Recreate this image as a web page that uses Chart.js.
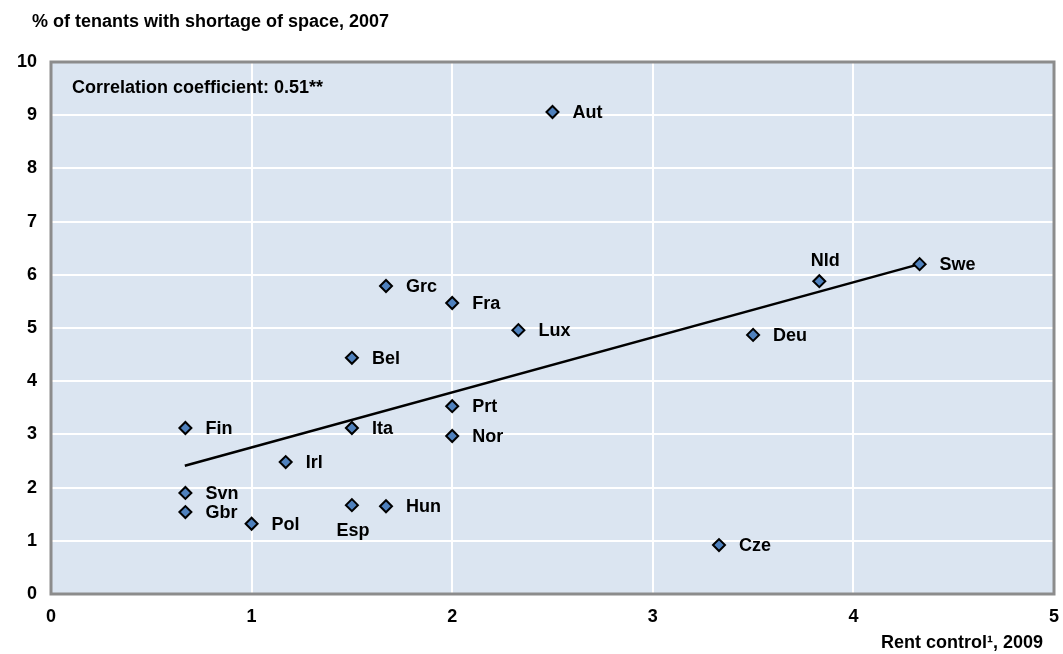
<!DOCTYPE html>
<html>
<head>
<meta charset="utf-8">
<script src="https://cdn.jsdelivr.net/npm/chart.js@4/dist/chart.umd.min.js"></script>
<style>
  html, body { margin: 0; padding: 0; background: #fff; }
  #wrap { width: 1063px; height: 654px; }
</style>
</head>
<body>
<div id="wrap"><canvas id="chart" width="1063" height="654"></canvas></div>
<script>
// Data
const countries   = ['Aut','Nld','Swe','Grc','Fra','Lux','Deu','Bel','Prt','Fin','Ita','Nor','Irl','Svn','Gbr','Pol','Esp','Hun','Cze'];
const rentControl = [2.50, 3.83, 4.33, 1.67, 2.00, 2.33, 3.50, 1.50, 2.00, 0.67, 1.50, 2.00, 1.17, 0.67, 0.67, 1.00, 1.50, 1.67, 3.33];
const shortage    = [9.06, 5.88, 6.20, 5.79, 5.47, 4.96, 4.87, 4.44, 3.53, 3.12, 3.12, 2.97, 2.48, 1.90, 1.54, 1.32, 1.67, 1.65, 0.92];
const labelPos    = ['right','above','right','right','right','right','right','right','right','right','right','right','right','right','right','right','below','right','right'];
const trendX = [0.667, 4.33];
const trendY = [2.41, 6.20];
const xTicks = [0, 1, 2, 3, 4, 5];
const yTicks = [0, 1, 2, 3, 4, 5, 6, 7, 8, 9, 10];

const FONT = '"Liberation Sans", Arial, sans-serif';
const BG = '#dbe5f1';
const MARKER = '#4f81bd';

const plotBg = {
  id: 'plotBg',
  beforeDraw(chart) {
    const {ctx, chartArea: a} = chart;
    ctx.save();
    ctx.fillStyle = BG;
    ctx.fillRect(a.left, a.top, a.right - a.left, a.bottom - a.top);
    ctx.restore();
  },
  beforeDatasetsDraw(chart) {
    const {ctx, chartArea: a} = chart;
    ctx.save();
    ctx.strokeStyle = '#8c8c8c';
    ctx.lineWidth = 3;
    ctx.strokeRect(a.left, a.top, a.right - a.left, a.bottom - a.top);
    ctx.fillStyle = '#000';
    ctx.textBaseline = 'middle';
    ctx.font = 'bold 18px ' + FONT;
    ctx.textAlign = 'left';
    // y axis title
    ctx.fillText('% of tenants with shortage of space, 2007', 32, 22);
    // correlation note
    ctx.fillText('Correlation coefficient: 0.51**', a.left + 21, a.top + 26);
    // x axis title
    ctx.textAlign = 'right';
    ctx.fillText('Rent control¹, 2009', a.right - 11, 643);
    ctx.restore();
  }
};

const pointLabels = {
  id: 'pointLabels',
  afterDatasetsDraw(chart) {
    const {ctx, scales: {x, y}} = chart;
    ctx.save();
    ctx.fillStyle = '#000';
    ctx.font = 'bold 18px ' + FONT;
    countries.forEach((c, i) => {
      const px = x.getPixelForValue(rentControl[i]);
      const py = y.getPixelForValue(shortage[i]);
      if (labelPos[i] === 'above') {
        ctx.textAlign = 'center'; ctx.textBaseline = 'middle';
        ctx.fillText(c, px + 6, py - 20);
      } else if (labelPos[i] === 'below') {
        ctx.textAlign = 'center'; ctx.textBaseline = 'middle';
        ctx.fillText(c, px + 1, py + 26);
      } else {
        ctx.textAlign = 'left'; ctx.textBaseline = 'middle';
        ctx.fillText(c, px + 20, py + 1);
      }
    });
    ctx.restore();
  }
};

new Chart(document.getElementById('chart'), {
  type: 'scatter',
  data: {
    datasets: [
      {
        label: 'Trend',
        type: 'line',
        data: trendX.map((v, i) => ({x: v, y: trendY[i]})),
        borderColor: '#000',
        borderWidth: 2.5,
        pointRadius: 0,
        fill: false,
        order: 2
      },
      {
        label: 'Countries',
        data: rentControl.map((v, i) => ({x: v, y: shortage[i]})),
        pointStyle: 'rectRot',
        pointRadius: 6,
        pointBackgroundColor: MARKER,
        pointBorderColor: '#000',
        pointBorderWidth: 2,
        order: 1
      }
    ]
  },
  options: {
    responsive: false,
    animation: false,
    layout: { padding: { top: 62, left: 10, right: 9, bottom: 0 } },
    plugins: {
      legend: { display: false },
      tooltip: { enabled: false },
      title: { display: false }
    },
    scales: {
      x: {
        type: 'linear',
        min: 0, max: 5,
        afterBuildTicks(s) { s.ticks = xTicks.map(v => ({value: v})); },
        afterFit(s) { s.height = 60; s.paddingLeft = 0; s.paddingRight = 0; },
        grid: { color: '#fff', lineWidth: 2, drawTicks: false },
        border: { display: false },
        ticks: { color: '#000', padding: 12, font: { family: FONT, size: 18, weight: 'bold' } }
      },
      y: {
        type: 'linear',
        min: 0, max: 10,
        afterBuildTicks(s) { s.ticks = yTicks.map(v => ({value: v})); },
        afterFit(s) { s.width = 41; s.paddingTop = 0; s.paddingBottom = 0; },
        grid: { color: '#fff', lineWidth: 2, drawTicks: false },
        border: { display: false },
        ticks: { color: '#000', padding: 14, font: { family: FONT, size: 18, weight: 'bold' } }
      }
    }
  },
  plugins: [plotBg, pointLabels]
});
</script>
</body>
</html>
